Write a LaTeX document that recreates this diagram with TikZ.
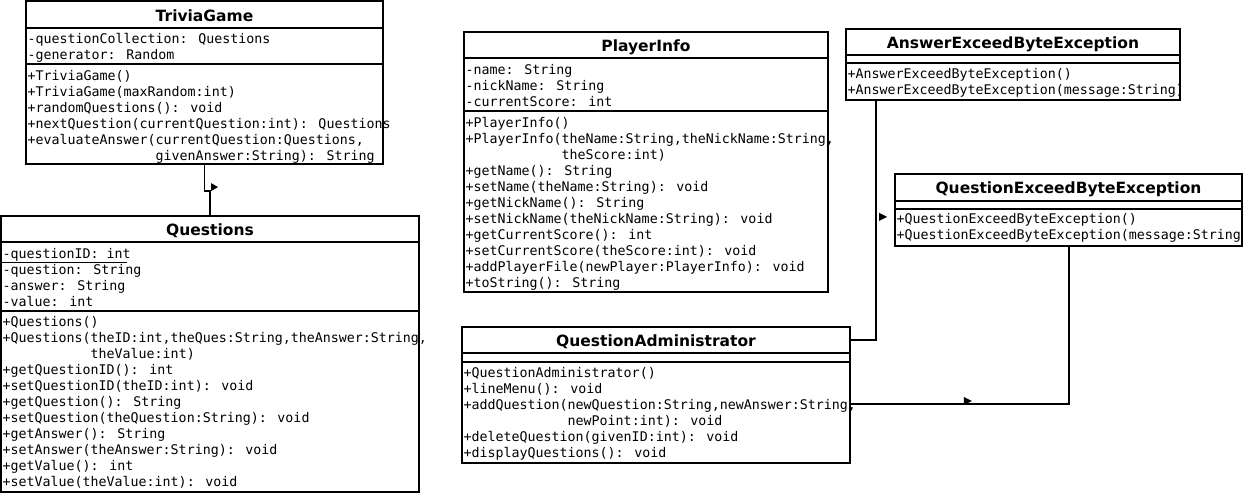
\documentclass[tikz,border=0pt]{standalone}
\usepackage{fontspec}
\usepackage{tikz}
\usetikzlibrary{positioning}
\newfontfamily\umlsans{DejaVu Sans}
\newfontfamily\umlmono{DejaVu Sans Mono}
\tikzset{classbox/.style = {draw, line width=1.8pt, inner sep=0pt}}
\tikzset{classname/.style = {font=\umlsans\bfseries\fontsize{15.5}{18}\selectfont,
                             inner sep=0pt, text height=11.3pt, text depth=0pt}}
\tikzset{members/.style = {font=\umlmono\fontsize{13.3}{16}\selectfont,
                           align=left, inner sep=0pt, outer sep=0pt,
                           execute at begin node=\strut}}
\tikzset{link/.style = {line width=1.8pt}}

\begin{document}
\begin{tikzpicture}[x=1pt, y=-1pt]
    \useasboundingbox (0, 0) rectangle (1245, 493);

    % class boxes
    \node [classbox, minimum width=357, minimum height=163] (game) at (204.5, 82.5) {};
    \node [classbox, minimum width=418, minimum height=276] (questions) at (210, 354) {};
    \node [classbox, minimum width=364, minimum height=260] (player) at (646, 162) {};
    \node [classbox, minimum width=334, minimum height=71] (answerexc) at (1013, 64.5) {};
    \node [classbox, minimum width=347, minimum height=72] (questionexc) at (1068.5, 210) {};
    \node [classbox, minimum width=388, minimum height=136] (admin) at (656, 395) {};

    % compartment lines
    \draw [link] ([yshift=-28pt]game.north west) -- ([yshift=-28pt]game.north east);
    \draw [link] ([yshift=-64pt]game.north west) -- ([yshift=-64pt]game.north east);
    \draw [link] ([yshift=-27pt]questions.north west) -- ([yshift=-27pt]questions.north east);
    \draw [link] ([yshift=-96pt]questions.north west) -- ([yshift=-96pt]questions.north east);
    \draw [line width=0.8pt] ([yshift=-47pt]questions.north west) -- ++(127, 0);
    \draw [link] ([yshift=-27pt]player.north west) -- ([yshift=-27pt]player.north east);
    \draw [link] ([yshift=-80pt]player.north west) -- ([yshift=-80pt]player.north east);
    \draw [link] ([yshift=-27pt]answerexc.north west) -- ([yshift=-27pt]answerexc.north east);
    \draw [link] ([yshift=-35pt]answerexc.north west) -- ([yshift=-35pt]answerexc.north east);
    \draw [link] ([yshift=-28pt]questionexc.north west) -- ([yshift=-28pt]questionexc.north east);
    \draw [link] ([yshift=-36pt]questionexc.north west) -- ([yshift=-36pt]questionexc.north east);
    \draw [link] ([yshift=-27pt]admin.north west) -- ([yshift=-27pt]admin.north east);
    \draw [link] ([yshift=-36pt]admin.north west) -- ([yshift=-36pt]admin.north east);

    % class names
    \node [classname] (game-name) at ([yshift=-15.5pt]game.north) {TriviaGame};
    \node [classname] (questions-name) at ([yshift=-15pt]questions.north) {Questions};
    \node [classname] (player-name) at ([yshift=-14.5pt]player.north) {PlayerInfo};
    \node [classname] (answerexc-name) at ([yshift=-14.5pt]answerexc.north) {AnswerExceedByteException};
    \node [classname] (questionexc-name) at ([yshift=-15pt]questionexc.north) {QuestionExceedByteException};
    \node [classname] (admin-name) at ([yshift=-15pt]admin.north) {QuestionAdministrator};

    % attributes and operations
    \node [members, below right=33.3pt and 2.5pt of game.north west] (game-attr)
        {-questionCollection: Questions\\
         -generator: Random};
    \node [members, below right=69.8pt and 2.5pt of game.north west] (game-ops)
        {+TriviaGame()\\
         +TriviaGame(maxRandom:int)\\
         +randomQuestions(): void\\
         +nextQuestion(currentQuestion:int): Questions\\
         +evaluateAnswer(currentQuestion:Questions,\\
         \phantom{+evaluateAnswer(}givenAnswer:String): String};

    \node [members, below right=33.3pt and 2.5pt of questions.north west] (questions-attr)
        {-questionID: int\\
         -question: String\\
         -answer: String\\
         -value: int};
    \node [members, below right=101.3pt and 2.5pt of questions.north west] (questions-ops)
        {+Questions()\\
         +Questions(theID:int,theQues:String,theAnswer:String,\\
         \phantom{+Questions(}theValue:int)\\
         +getQuestionID(): int\\
         +setQuestionID(theID:int): void\\
         +getQuestion(): String\\
         +setQuestion(theQuestion:String): void\\
         +getAnswer(): String\\
         +setAnswer(theAnswer:String): void\\
         +getValue(): int\\
         +setValue(theValue:int): void};

    \node [members, below right=33.5pt and 2.5pt of player.north west] (player-attr)
        {-name: String\\
         -nickName: String\\
         -currentScore: int};
    \node [members, below right=86.6pt and 2.5pt of player.north west] (player-ops)
        {+PlayerInfo()\\
         +PlayerInfo(theName:String,theNickName:String,\\
         \phantom{+PlayerInfo(}theScore:int)\\
         +getName(): String\\
         +setName(theName:String): void\\
         +getNickName(): String\\
         +setNickName(theNickName:String): void\\
         +getCurrentScore(): int\\
         +setCurrentScore(theScore:int): void\\
         +addPlayerFile(newPlayer:PlayerInfo): void\\
         +toString(): String};

    \node [members, below right=40.3pt and 2.5pt of answerexc.north west] (answerexc-ops)
        {+AnswerExceedByteException()\\
         +AnswerExceedByteException(message:String)};

    \node [members, below right=40.3pt and 2.5pt of questionexc.north west] (questionexc-ops)
        {+QuestionExceedByteException()\\
         +QuestionExceedByteException(message:String};

    \node [members, below right=41.3pt and 2.5pt of admin.north west] (admin-ops)
        {+QuestionAdministrator()\\
         +lineMenu(): void\\
         +addQuestion(newQuestion:String,newAnswer:String,\\
         \phantom{+addQuestion(}newPoint:int): void\\
         +deleteQuestion(givenID:int): void\\
         +displayQuestions(): void};

    % associations
    \draw [link] (game.south) -- ++(0, 26) -| (questions.north);
    \fill (questions.north) ++(1, -32) -- ++(7, 4) -- ++(-7, 4) -- cycle;

    \draw [link] ([xshift=31pt]answerexc.south west) |- ([yshift=-14pt]admin.north east);
    \fill (answerexc.south west) ++(34, 112) -- ++(8, 4) -- ++(-8, 4) -- cycle;

    \draw [link] ([xshift=175pt]questionexc.south west) |- ([yshift=-9pt]admin.east);
    \fill (admin.east) ++(113, 2) -- ++(8, 4) -- ++(-8, 4) -- cycle;
\end{tikzpicture}
\end{document}
